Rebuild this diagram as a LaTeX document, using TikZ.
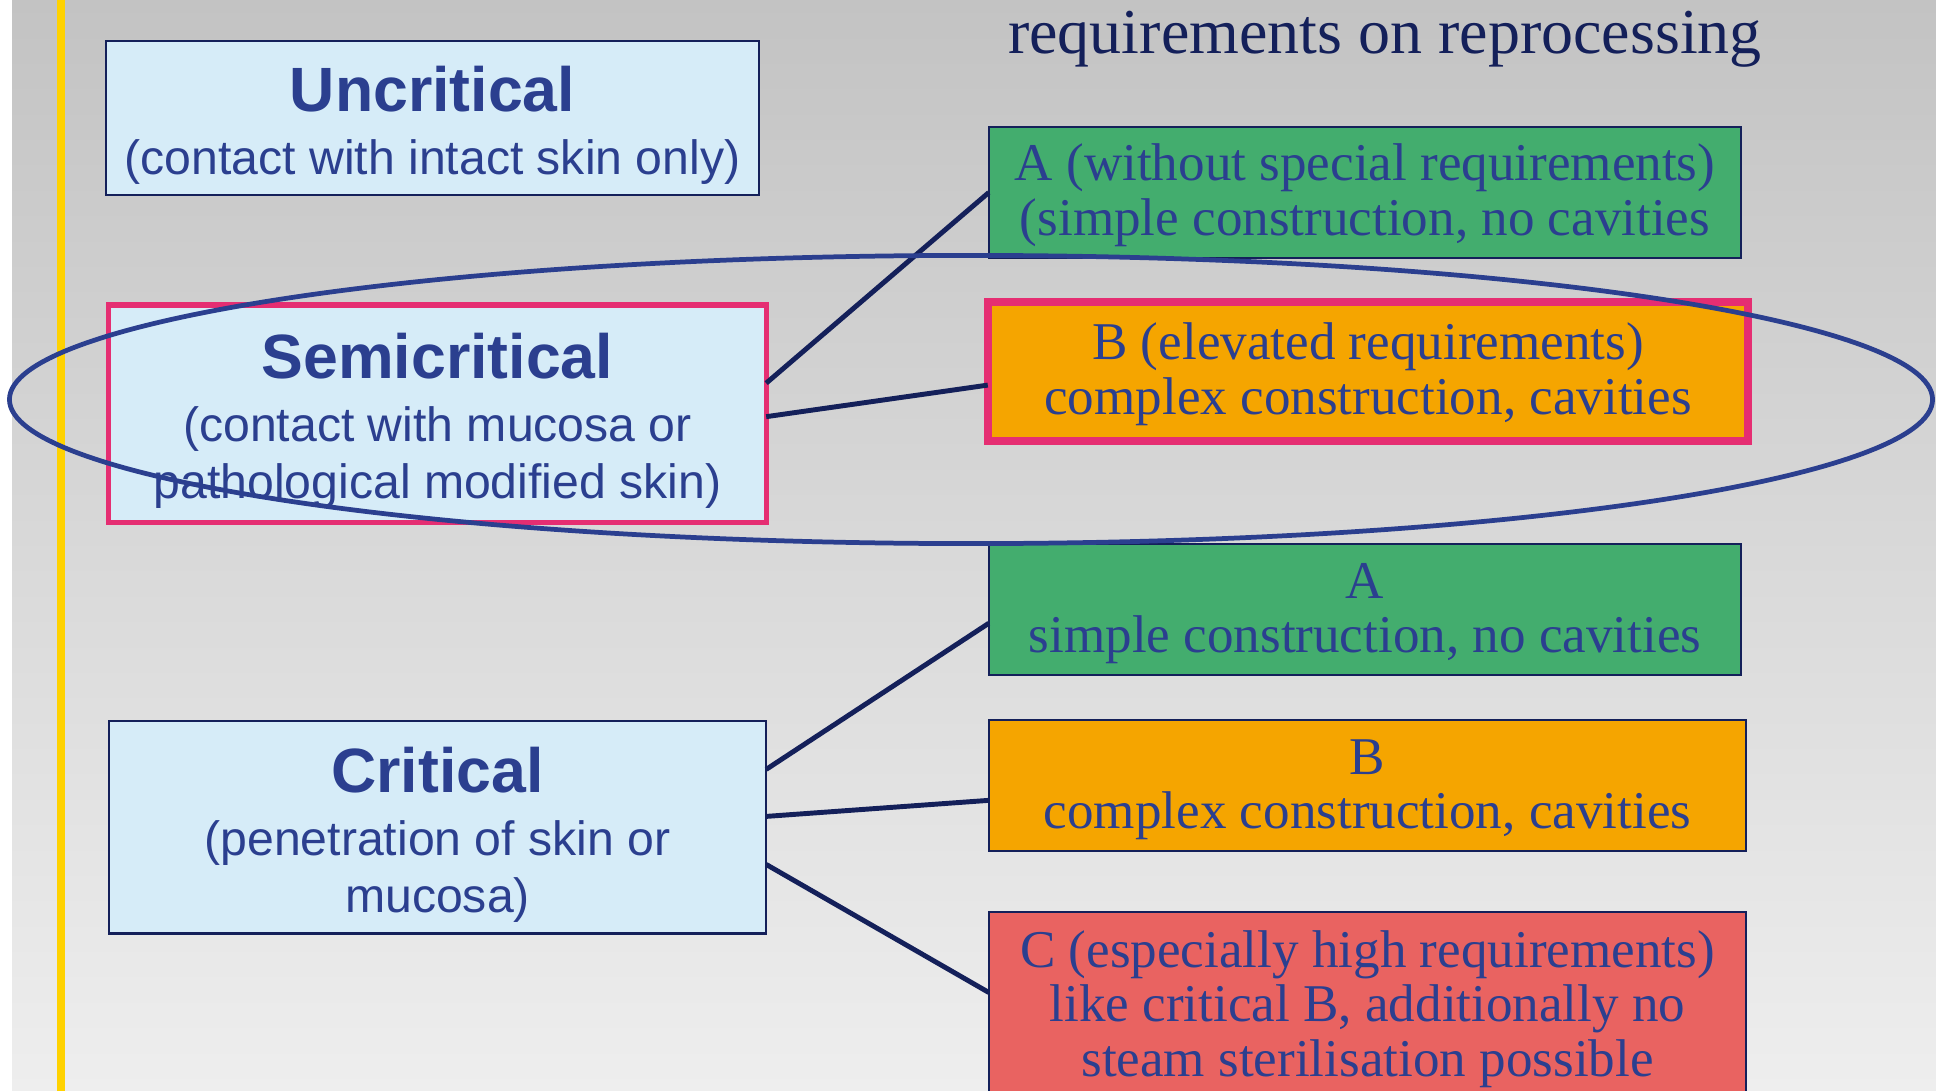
\documentclass[tikz,border=0pt]{standalone}
\usepackage{fontspec}
\setmainfont{Liberation Serif}
\setsansfont{Liberation Sans}
\usetikzlibrary{positioning}

\definecolor{bgtop}{HTML}{C3C3C3}
\definecolor{bgbot}{HTML}{EEEEEE}
\definecolor{skyfill}{HTML}{D6ECF8}
\definecolor{inkblue}{HTML}{2B3F8F}
\definecolor{navy}{HTML}{14205A}
\definecolor{grnfill}{HTML}{43AD6E}
\definecolor{orgfill}{HTML}{F5A500}
\definecolor{redfill}{HTML}{E96361}
\definecolor{hotpink}{HTML}{E52E72}
\definecolor{goldline}{HTML}{FFD200}

\newcommand\classhead[1]{{\fontsize{17.8}{20}\selectfont\bfseries\rule{0pt}{17pt}#1}}
\newcommand\reqstrut{\rule{0pt}{12pt}}

\begin{document}
\begin{tikzpicture}[x=0.01cm, y=-0.01cm,
                    classnode/.style={rectangle, draw=navy, fill=skyfill, line width=0.6pt, text=inkblue, align=center, inner sep=0pt, outer sep=0pt, font=\sffamily\fontsize{13.7}{16.2}\selectfont},
                    reqnode/.style={rectangle, draw=navy, line width=0.6pt, text=inkblue, align=center, inner sep=0pt, outer sep=0pt, minimum width=7.52cm, minimum height=1.31cm, font=\fontsize{15.1}{15.4}\selectfont},
                    markednode/.style={draw=hotpink, line width=2.3pt},
                    link/.style={draw=navy, line width=1.4pt},
                    hilite/.style={draw=inkblue, line width=1.35pt},
                ]
                    \useasboundingbox (0,0) rectangle (1936,1091);
                    \clip (0,0) rectangle (1936,1091);

                    %Background
                    \fill[white] (0,0) rectangle (1936,1091);
                    \shade[top color=bgtop, bottom color=bgbot] (12,0) rectangle (1936,1091);
                    \draw[goldline, line width=2.2pt] (61,0) -- (61,1091);

                    %Nodes
                    \node[anchor=base, text=navy, font=\fontsize{18.2}{20}\selectfont](title) at (1385,54) {requirements on reprocessing};

                    \node[classnode, minimum width=6.53cm, minimum height=1.54cm](unc) at (432.5,118) {\classhead{Uncritical}\\[1.7pt](contact with intact skin only)};
                    \node[classnode, markednode, line width=1.5pt, minimum width=6.57cm, minimum height=2.17cm](semi)[below=1.1cm of unc, xshift=0.05cm] {\classhead{Semicritical}\\[1.7pt](contact with mucosa or\\pathological modified skin)};
                    \node[classnode, minimum width=6.57cm, minimum height=2.12cm](crit)[below=1.99cm of semi] {\classhead{Critical}\\[1.7pt](penetration of skin or\\mucosa)};

                    \node[reqnode, fill=grnfill](reqA1) at (1365,192.5) {\reqstrut A (without special requirements)\\(simple construction, no cavities};
                    \node[reqnode, fill=orgfill, markednode, minimum width=7.6cm, minimum height=1.39cm](reqB1)[below=0.44cm of reqA1, xshift=0.03cm] {\reqstrut B (elevated requirements)\\complex construction, cavities};
                    \node[reqnode, fill=grnfill](reqA2)[below=1.03cm of reqB1, xshift=-0.03cm] {\reqstrut A\\simple construction, no cavities};
                    \node[reqnode, fill=orgfill, minimum width=7.57cm](reqB2)[below=0.45cm of reqA2, xshift=0.025cm] {\reqstrut B\\complex construction, cavities};
                    \node[reqnode, fill=redfill, minimum width=7.57cm, minimum height=1.88cm](reqC)[below=0.61cm of reqB2] {\reqstrut C (especially high requirements)\\like critical B, additionally no\\steam sterilisation possible};

                    %Lines
                    \draw[link]([yshift=0.305cm]semi.east) -- (reqA1.west);
                    \draw[link]([yshift=-0.03cm]semi.east) -- ([yshift=-0.135cm]reqB1.west);
                    \draw[link]([yshift=0.58cm]crit.east) -- ([yshift=-0.135cm]reqA2.west);
                    \draw[link]([yshift=0.11cm]crit.east) -- ([yshift=-0.145cm]reqB2.west);
                    \draw[link]([yshift=-0.37cm]crit.east) -- ([yshift=0.14cm]reqC.west);

                    %Ellipse
                    \draw[hilite] (971,399.5) ellipse [x radius=9.61cm, y radius=1.44cm];
                \end{tikzpicture}
\end{document}
